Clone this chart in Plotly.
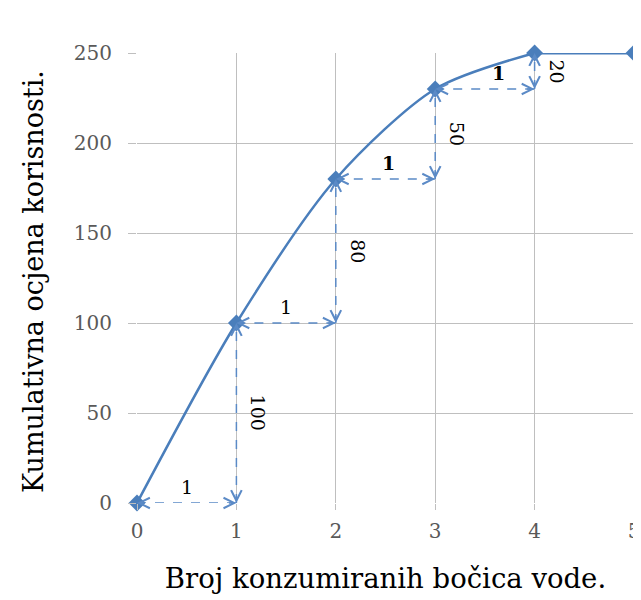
import plotly.graph_objects as go

# Data
bottles = [0, 1, 2, 3, 4, 5]
utility = [0, 100, 180, 230, 250, 250]
marginal = [100, 80, 50, 20]
step_labels = ["1", "1", "1", "1"]
x_ticks = [0, 1, 2, 3, 4, 5]
y_ticks = [0, 50, 100, 150, 200, 250]
x_title = "Broj konzumiranih bočica vode."
y_title = "Kumulativna ocjena korisnosti."

BLUE = "#4A7EBB"
DASH = "#5B8AC6"
SERIF = "DejaVu Serif"
# horizontal nudge (px) of the "1" labels, and boldness, per step
label_xshift = [0, 0, 3, 14]
label_bold = [False, False, True, True]

fig = go.Figure()

# dashed step segments
for i in range(len(marginal)):
    x0, x1 = bottles[i], bottles[i + 1]
    y0, y1 = utility[i], utility[i] + marginal[i]
    fig.add_trace(go.Scatter(x=[x0, x1], y=[y0, y0], mode="lines",
                             line=dict(color=DASH, width=1.5, dash="dash"),
                             hoverinfo="skip", showlegend=False))
    fig.add_trace(go.Scatter(x=[x1, x1], y=[y0, y1], mode="lines",
                             line=dict(color=DASH, width=1.5, dash="dash"),
                             hoverinfo="skip", showlegend=False))

# main curve: smooth through the rising part, straight on the flat part
flat = utility.index(max(utility))
fig.add_trace(go.Scatter(x=bottles[:flat + 1], y=utility[:flat + 1], mode="lines",
                         line=dict(color=BLUE, width=2.5, shape="spline", smoothing=0.8),
                         cliponaxis=False, hoverinfo="skip", showlegend=False))
fig.add_trace(go.Scatter(x=bottles[flat:], y=utility[flat:], mode="lines",
                         line=dict(color=BLUE, width=3),
                         cliponaxis=False, hoverinfo="skip", showlegend=False))
fig.add_trace(go.Scatter(x=bottles, y=utility, mode="markers",
                         marker=dict(symbol="diamond", size=13, color=BLUE),
                         cliponaxis=False, showlegend=False))

L = 9
head = dict(showarrow=True, arrowhead=5, arrowsize=1.6, arrowwidth=1.3,
            arrowcolor=DASH, text="", standoff=0, xref="x", yref="y")
for i in range(len(marginal)):
    x0, x1 = bottles[i], bottles[i + 1]
    y0, y1 = utility[i], utility[i] + marginal[i]
    fig.add_annotation(x=x1, y=y0, ax=-L, ay=0, **head)
    fig.add_annotation(x=x0, y=y0, ax=L, ay=0, **head)
    fig.add_annotation(x=x1, y=y1, ax=0, ay=L, **head)
    fig.add_annotation(x=x1, y=y0, ax=0, ay=-L, **head)
    txt = step_labels[i]
    if label_bold[i]:
        txt = "<b>" + txt + "</b>"
    fig.add_annotation(x=(x0 + x1) / 2, y=y0, text=txt, showarrow=False,
                       yshift=16, xshift=label_xshift[i],
                       font=dict(family=SERIF, size=19, color="#000000"))
    fig.add_annotation(x=x1, y=(y0 + y1) / 2, text=str(marginal[i]), showarrow=False,
                       xshift=22, textangle=90,
                       font=dict(family=SERIF, size=19, color="#000000"))

# y-axis title as a rotated paper annotation
fig.add_annotation(x=0, y=0.5, xref="paper", yref="paper", text=y_title,
                   showarrow=False, textangle=-90, xanchor="center", yanchor="middle",
                   xshift=-104, yshift=-4,
                   font=dict(family=SERIF, size=27, color="#000000"))

# page body has an 8px margin: shrink the figure and margins accordingly
fig.update_layout(
    width=633, height=592,
    margin=dict(l=129, r=7, t=45, b=97, autoexpand=False),
    plot_bgcolor="white", paper_bgcolor="white",
    xaxis=dict(range=[0, 5], tickvals=x_ticks, showgrid=True, gridcolor="#BFBFBF",
               gridwidth=1, zeroline=False, showline=False, ticks="outside",
               ticklen=6, tickcolor="#BFBFBF", ticklabelstandoff=4,
               tickfont=dict(family=SERIF, size=20, color="#595959"),
               automargin=False,
               title=dict(text=x_title,
                          font=dict(family=SERIF, size=27.5, color="#000000"),
                          standoff=26)),
    yaxis=dict(range=[0, 250], tickvals=y_ticks, showgrid=True, gridcolor="#BFBFBF",
               gridwidth=1, zeroline=False, showline=False, ticks="outside",
               ticklen=8, tickcolor="#BFBFBF", ticklabelstandoff=12,
               tickfont=dict(family=SERIF, size=20, color="#595959"),
               automargin=False),
)

fig.write_html("out.html")
